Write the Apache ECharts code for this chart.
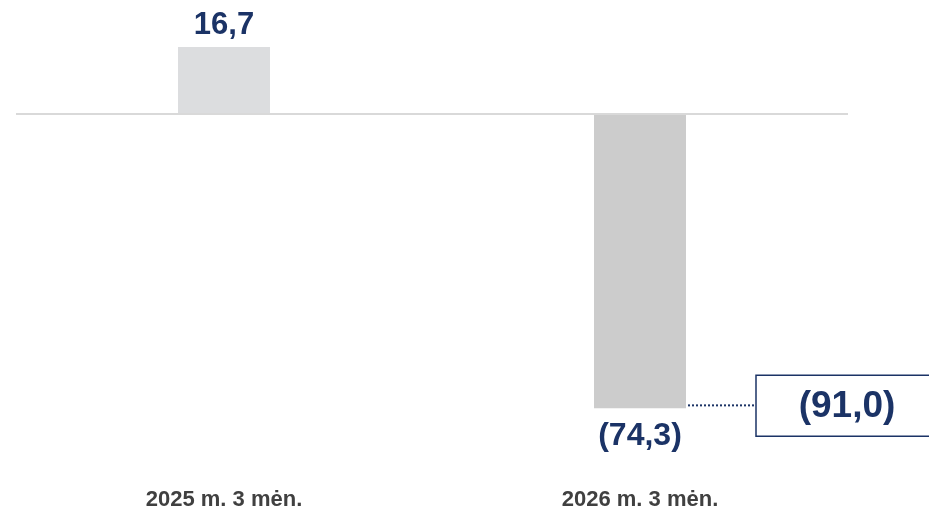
<!DOCTYPE html>
<html>
<head>
<meta charset="utf-8">
<script src="https://cdn.jsdelivr.net/npm/echarts@6/dist/echarts.min.js"></script>
<style>
  html, body { margin: 0; padding: 0; background: #fff; }
  #main { width: 929px; height: 512px; }
</style>
</head>
<body>
<div id="main"></div>
<script>
var categories = ['2025 m. 3 mėn.', '2026 m. 3 mėn.'];
var values = [16.7, -74.3];
var barColors = ['#DCDDDF', '#CCCCCC'];
var totalLabel = '(91,0)';

function fmt(v){
    var s = Math.abs(v).toFixed(1).replace('.', ',');
    return v < 0 ? '(' + s + ')' : s;
}

var navy = '#1B3366';
var font = 'Arial, "Liberation Sans", sans-serif';
var myChart = echarts.init(document.getElementById('main'));
var option = {
    animation: false,
    grid: { left: 16, right: 81, top: 34, bottom: 81 },
    xAxis: {
        type: 'category',
        data: categories,
        axisLine: { show: false, onZero: false },
        axisTick: { show: false },
        axisLabel: {
            margin: 58,
            color: '#404040',
            fontFamily: font,
            fontWeight: 'bold',
            fontSize: 22
        }
    },
    yAxis: {
        type: 'value',
        min: -80,
        max: 20,
        show: false,
        splitLine: { show: false }
    },
    series: [
        {
            type: 'bar',
            barWidth: 92,
            data: values.map(function(v, i){
                return {
                    value: v,
                    itemStyle: { color: barColors[i] },
                    label: v < 0
                        ? { position: 'bottom', distance: 12, fontSize: 32 }
                        : { position: 'top', distance: 6, fontSize: 31 }
                };
            }),
            label: {
                show: true,
                color: navy,
                fontFamily: font,
                fontWeight: 'bold',
                formatter: function(p){ return fmt(p.value); }
            },
            markLine: {
                silent: true,
                symbol: 'none',
                label: { show: false },
                lineStyle: { color: '#D9D9D9', width: 2, type: 'solid' },
                data: [{ yAxis: 0 }]
            },
            z: 3
        }
    ]
};
myChart.setOption(option);

// callout box linked to the end of the last bar
var end = myChart.convertToPixel({ gridIndex: 0 }, [1, values[1]]);
var boxX = 756, boxY = end[1] - 33, boxH = 61;
myChart.setOption({
    graphic: [
        {
            type: 'line',
            shape: { x1: end[0] + 48, y1: end[1] - 3, x2: boxX, y2: end[1] - 3 },
            style: { stroke: navy, lineWidth: 2, lineDash: [2, 2] }
        },
        {
            type: 'rect',
            shape: { x: boxX, y: boxY, width: 200, height: boxH },
            style: { fill: '#fff', stroke: navy, lineWidth: 1.5 }
        },
        {
            type: 'text',
            x: 847,
            y: boxY + boxH / 2 + 1,
            style: {
                text: totalLabel,
                fill: navy,
                font: 'bold 37px Arial, "Liberation Sans", sans-serif',
                align: 'center',
                verticalAlign: 'middle'
            }
        }
    ]
});
</script>
</body>
</html>
